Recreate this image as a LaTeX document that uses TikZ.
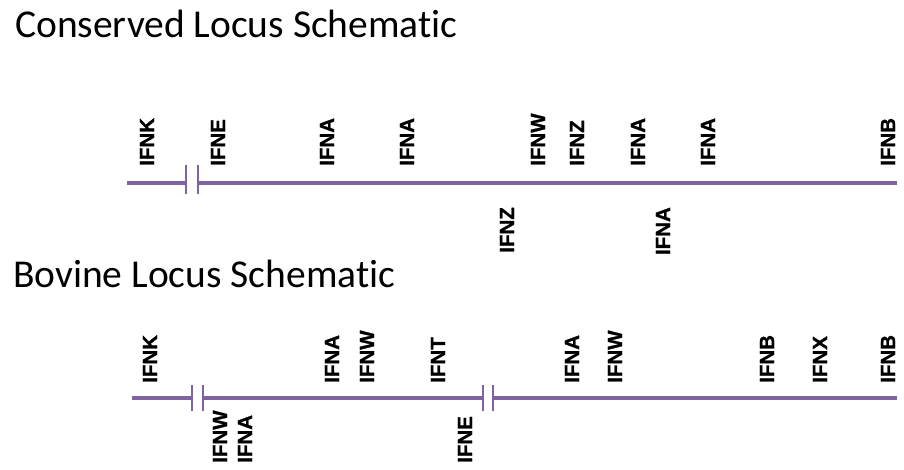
\documentclass[tikz,border=0pt]{standalone}
\usepackage{fontspec}
\setmainfont[Ligatures=CommonOff]{Carlito}
\newfontfamily\genefont{Liberation Sans}[BoldFeatures={FakeBold=1.2}]
\definecolor{locuspurple}{HTML}{8064A2}
\begin{document}
\begin{tikzpicture}[x=1pt,y=-1pt,
  locus/.style={draw=locuspurple, line width=4pt},
  brk/.style={draw=locuspurple, line width=2.8pt},
  gene/.style={font=\genefont\fontsize{20.5}{21}\selectfont\bfseries, inner sep=0pt, rotate=90},
  geneup/.style={gene, anchor=west},
  genedown/.style={gene, anchor=east},
  heading/.style={font=\fontsize{39.5}{40}\selectfont, anchor=base west, inner sep=0pt}]
\useasboundingbox (0,0) rectangle (904,470);

% headings
\node[heading] (t1) at (15,38) {Conserved Locus Schematic};
\node[heading] (t2) at (13,287) {Bovine Locus Schematic};

% conserved locus: line with one break
\coordinate (a0) at (127,183);
\coordinate (a1) at (186,183);
\coordinate (a2) at (198,183);
\coordinate (a3) at (897,183);
\draw[locus] (a0) -- (a1);
\draw[locus] (a2) -- (a3);
\draw[brk] ([yshift=-11]a1) -- ([yshift=18]a1);
\draw[brk] ([yshift=-11]a2) -- ([yshift=18]a2);

\foreach \x/\g [count=\i] in {147/IFNK,218/IFNE,327/IFNA,407/IFNA,538/IFNW,577/IFNZ,638/IFNA,708/IFNA,888/IFNB}
  \node[geneup] (cu\i) at (\x,166) {\g};
\foreach \x/\g [count=\i] in {507/IFNZ,663/IFNA}
  \node[genedown] (cd\i) at (\x,207) {\g};

% bovine locus: line with two breaks
\coordinate (b0) at (132,398);
\coordinate (b1) at (192,398);
\coordinate (b2) at (203,398);
\coordinate (b3) at (483,398);
\coordinate (b4) at (493,398);
\coordinate (b5) at (897,398);
\draw[locus] (b0) -- (b1);
\draw[locus] (b2) -- (b3);
\draw[locus] (b4) -- (b5);
\foreach \p in {b1,b2,b3,b4}
  \draw[brk] ([yshift=-13]\p) -- ([yshift=13]\p);

\foreach \x/\g [count=\i] in {150/IFNK,332/IFNA,367/IFNW,438/IFNT,572/IFNA,615/IFNW,767/IFNB,820/IFNX,888/IFNB}
  \node[geneup] (bu\i) at (\x,383) {\g};
\foreach \x/\g [count=\i] in {220/IFNW,245/IFNA,465/IFNE}
  \node[geneup] (bd\i) at (\x,463) {\g};
\end{tikzpicture}
\end{document}
